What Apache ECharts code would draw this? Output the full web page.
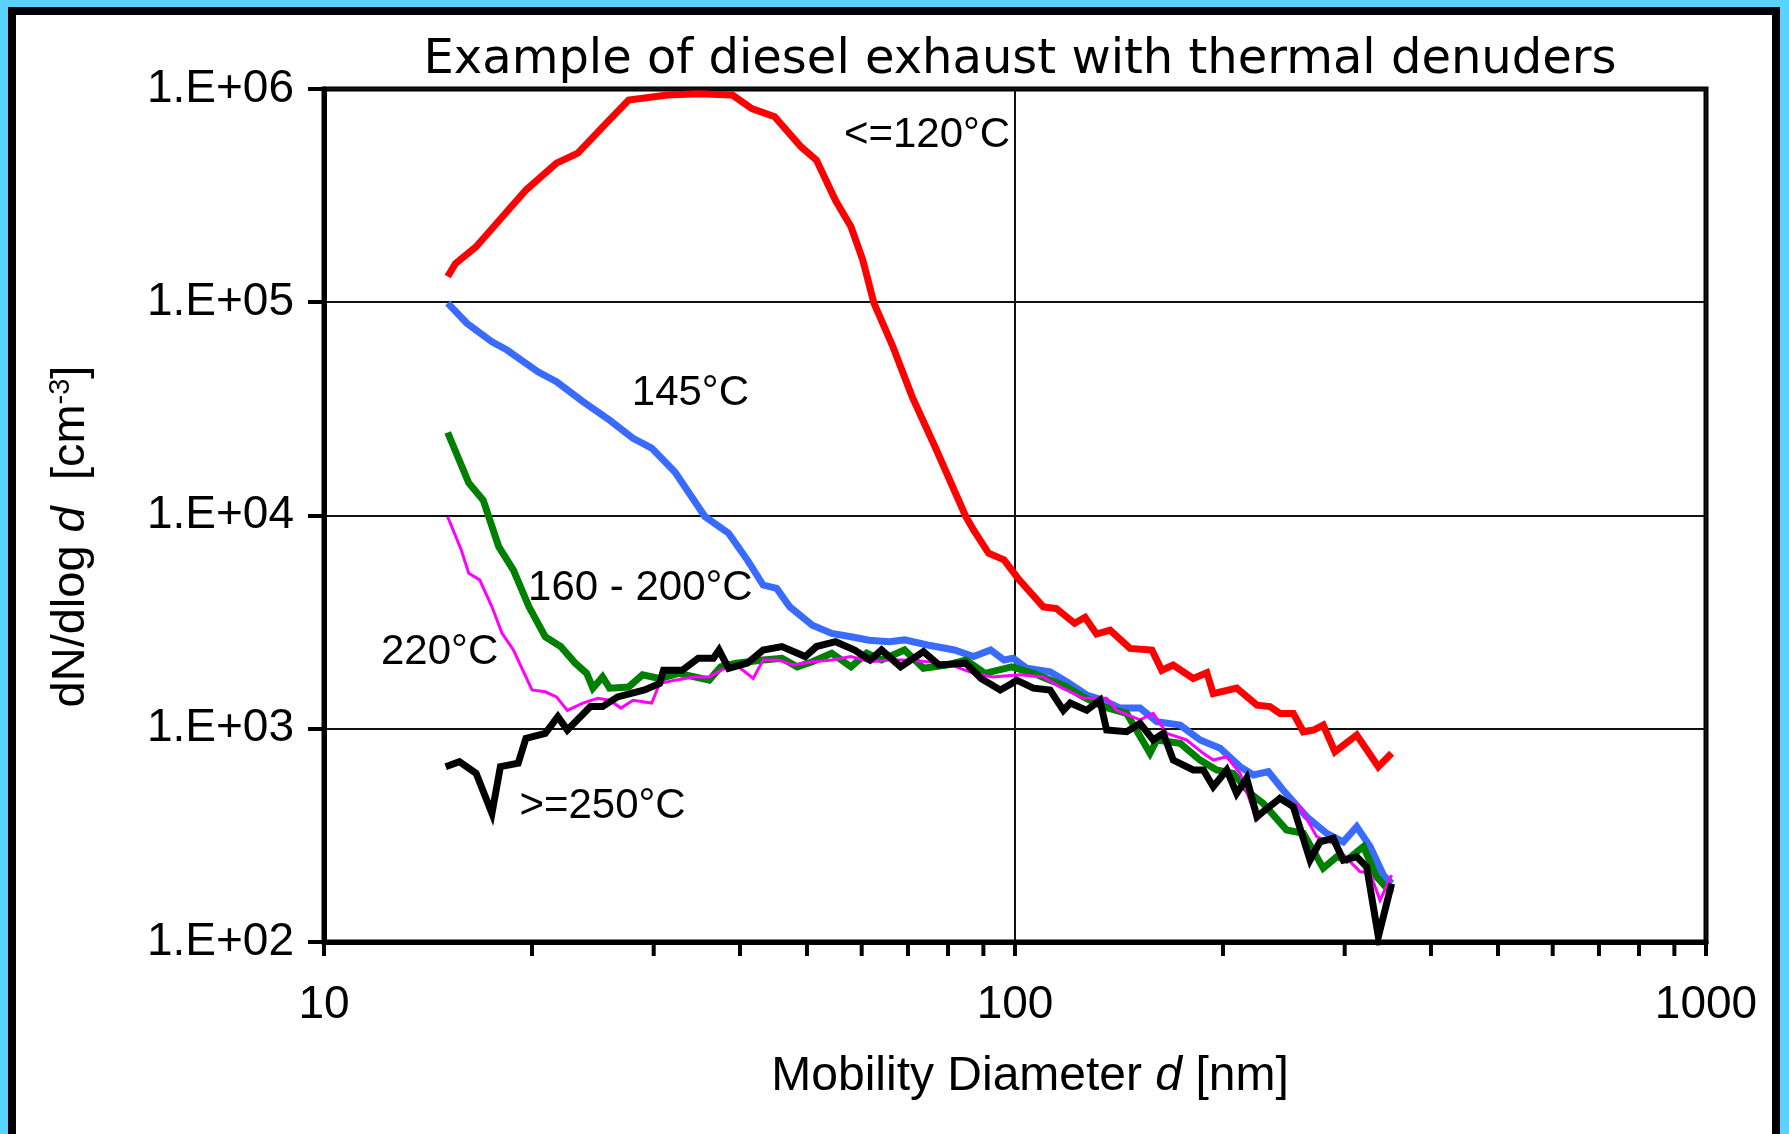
<!DOCTYPE html>
<html><head><meta charset="utf-8">
<script src="https://cdn.jsdelivr.net/npm/echarts@6/dist/echarts.min.js"></script>
<style>
html,body{margin:0;padding:0;width:1789px;height:1134px;overflow:hidden;background:#5AD2FE;}
#frame{position:absolute;left:8px;top:7px;width:1756px;height:1200px;border:8px solid #000;background:#fff;}
#chart{position:absolute;left:0;top:0;width:1789px;height:1134px;}
</style></head><body><div id="frame"></div><div id="chart"></div>
<script>
const titleText = 'Example of diesel exhaust with thermal denuders';
const xTickLabels = ['10', '100', '1000'];
const yTickLabels = ['1.E+02', '1.E+03', '1.E+04', '1.E+05', '1.E+06'];
const xMinorTicks = [20,30,40,50,60,70,80,90,200,300,400,500,600,700,800,900];

// diameter [nm], dN/dlog d [cm^-3]
const red120 = [[15.1,1.32e5],[15.5,1.52e5],[16.6,1.82e5],[17.6,2.26e5],[19.6,3.36e5],[21.7,4.49e5],[23.3,5.0e5],[25.6,6.9e5],[27.6,8.87e5],[31.4,9.37e5],[34.8,9.5e5],[39.0,9.37e5],[41.6,8.1e5],[44.9,7.42e5],[49.0,5.36e5],[51.6,4.64e5],[55.0,3.0e5],[57.9,2.26e5],[60.2,1.58e5],[62.5,9.9e4],[66.6,6.17e4],[71.0,3.6e4],[76.6,2.1e4],[84.9,9.87e3],[87.1,8.55e3],[91.6,6.65e3],[96.4,6.2e3],[101.4,4.99e3],[109.9,3.73e3],[114.8,3.66e3],[122,3.12e3],[126.3,3.33e3],[131.2,2.78e3],[137.3,2.9e3],[146.7,2.38e3],[157.8,2.34e3],[163.1,1.88e3],[169.4,1.99e3],[181.1,1.72e3],[189.5,1.83e3],[193.6,1.46e3],[209.3,1.55e3],[224,1.29e3],[233.9,1.27e3],[241.8,1.18e3],[252.8,1.18e3],[261.4,968],[270.3,986],[279.3,1.04e3],[290.4,780],[312.3,935],[335.6,664],[350.8,767]];
const blue145 = [[15.1,9.9e4],[16.1,7.97e4],[17.5,6.53e4],[18.4,5.97e4],[20.4,4.72e4],[21.7,4.24e4],[23.7,3.42e4],[25.9,2.8e4],[28.0,2.3e4],[29.8,2.07e4],[32.2,1.6e4],[35.6,9.87e3],[38.5,8.26e3],[41.0,6.18e3],[43.2,4.72e3],[45.2,4.55e3],[47.2,3.73e3],[50.9,3.06e3],[54.3,2.8e3],[57.9,2.7e3],[61.5,2.6e3],[65.8,2.56e3],[69.2,2.61e3],[74.7,2.47e3],[81.7,2.34e3],[87.1,2.18e3],[92.2,2.34e3],[96.4,2.1e3],[99.4,2.14e3],[104,1.92e3],[112.4,1.85e3],[118.8,1.66e3],[127,1.44e3],[134.2,1.36e3],[141.9,1.25e3],[151.7,1.25e3],[160.4,1.08e3],[173.4,1.04e3],[185.3,886],[198.1,810],[211.7,664],[221.3,607],[232.6,629],[244.3,516],[264.2,387],[282.5,323],[298.6,295],[312.3,347],[326.6,280],[341.3,206],[350.8,188]];
const green160_200 = [[15.1,2.45e4],[16.2,1.42e4],[17.0,1.18e4],[17.9,7.14e3],[18.8,5.55e3],[19.8,3.73e3],[20.9,2.7e3],[22.0,2.43e3],[23.1,2.03e3],[24.0,1.82e3],[24.5,1.55e3],[25.3,1.75e3],[25.9,1.55e3],[27.6,1.57e3],[28.9,1.79e3],[30.6,1.72e3],[32.6,1.82e3],[36.1,1.69e3],[37.5,1.95e3],[39.5,2.03e3],[43.2,2.1e3],[46.0,2.14e3],[48.4,1.95e3],[50.9,2.06e3],[54.3,2.26e3],[57.9,1.95e3],[61.0,2.26e3],[64.1,2.1e3],[69.2,2.34e3],[73.7,1.92e3],[79.6,1.99e3],[84.9,2.1e3],[90.5,1.82e3],[98.9,1.95e3],[106.3,1.82e3],[118.8,1.57e3],[125.6,1.41e3],[134.2,1.27e3],[145.1,1.18e3],[156.8,767],[160.4,886],[173.4,855],[185.3,713],[195.8,641],[207,618],[218.8,498],[228.6,447],[247.2,335],[261.4,323],[279.3,222],[292.2,251],[302,242],[319.3,280],[333.7,202],[350.8,169]];
const magenta220 = [[15.1,9.87e3],[15.8,6.89e3],[16.2,5.36e3],[16.8,4.99e3],[17.5,3.73e3],[18.1,2.8e3],[18.8,2.34e3],[20.0,1.52e3],[20.9,1.49e3],[21.7,1.41e3],[22.5,1.22e3],[23.7,1.32e3],[24.9,1.39e3],[25.9,1.36e3],[26.9,1.25e3],[28.0,1.36e3],[29.8,1.32e3],[30.6,1.63e3],[32.2,1.69e3],[34.3,1.75e3],[36.1,1.75e3],[38.0,1.92e3],[39.5,1.99e3],[41.8,1.72e3],[43.2,2.1e3],[45.4,2.1e3],[47.8,1.99e3],[50.9,2.06e3],[54.3,2.1e3],[57.9,2.18e3],[61.6,2.06e3],[65.8,2.1e3],[70.1,2.1e3],[74.7,2.06e3],[79.6,2.03e3],[87.1,1.82e3],[92.8,1.75e3],[101.7,1.79e3],[109.9,1.75e3],[116.2,1.57e3],[125.6,1.39e3],[135.7,1.39e3],[140.3,1.22e3],[151.7,1.1e3],[158.5,1.18e3],[165.8,952],[177.1,886],[187.3,767],[193.6,713],[202.5,739],[211.7,618],[223.9,373],[241.8,480],[258.4,431],[273.3,312],[288.8,290],[302,247],[315.7,214],[326.6,210],[337.5,157],[350.8,206]];
const black250 = [[15.0,664],[15.7,701],[16.6,618],[17.5,401],[18.0,664],[19.1,689],[19.6,902],[20.9,952],[21.8,1.14e3],[22.5,986],[24.3,1.27e3],[25.3,1.27e3],[26.6,1.41e3],[29.1,1.52e3],[30.6,1.63e3],[31.0,1.88e3],[33.0,1.88e3],[34.8,2.14e3],[36.6,2.14e3],[37.3,2.34e3],[38.5,1.92e3],[41.0,2.03e3],[43.2,2.34e3],[46.0,2.43e3],[49.7,2.18e3],[51.6,2.43e3],[55.0,2.56e3],[58.6,2.34e3],[61.7,2.1e3],[64.1,2.34e3],[68.3,1.95e3],[73.7,2.3e3],[77.6,1.99e3],[84.9,2.03e3],[89.3,1.72e3],[95.2,1.52e3],[98.9,1.63e3],[100.6,1.69e3],[106.3,1.55e3],[112.4,1.52e3],[117.5,1.22e3],[120.2,1.32e3],[127,1.22e3],[132.7,1.36e3],[135.7,986],[145.1,968],[151.7,1.06e3],[158.5,886],[163.9,952],[169.4,713],[181.1,641],[187.3,641],[193.6,535],[202.5,641],[209.3,498],[216.4,586],[223.9,387],[241.8,472],[252.8,431],[267.3,242],[276.3,295],[288.8,306],[298.6,242],[312.3,251],[322.8,225],[335.6,106],[350.8,188]];

const curveLabels = [
  {text:'<=120°C', d:74.6, v:6.08e5},
  {text:'145°C', d:33.9, v:3.75e4},
  {text:'160 - 200°C', d:28.7, v:4.57e3},
  {text:'220°C', d:14.7, v:2.29e3},
  {text:'>=250°C', d:25.3, v:434}
];

const FONT = '"Liberation Sans", Arial, sans-serif';
const chart = echarts.init(document.getElementById('chart'), null, {renderer:'canvas'});

function lineSeries(name, data, color, width, z){
  return {type:'line', name, data, symbol:'none', showSymbol:false, z,
    lineStyle:{color, width, join:'miter', opacity:1}, itemStyle:{color}, silent:true, animation:false};
}

const option = {
  animation:false,
  backgroundColor:'transparent',
  textStyle:{fontFamily:FONT},
  grid:{left:324, top:89, width:1382, height:853, show:true, borderColor:'#000', borderWidth:5, backgroundColor:'transparent', containLabel:false},
  graphic:[{type:'text', x:1020, y:61, style:{text:titleText, font:'48px "DejaVu Sans"', textAlign:'center', textVerticalAlign:'middle', fill:'#000'}}],
  xAxis:{
    type:'log', logBase:10, min:10, max:1000,
    axisLine:{show:true, lineStyle:{color:'#000', width:5}},
    axisTick:{show:true, inside:false, length:14, lineStyle:{color:'#000', width:4}},
    axisLabel:{fontSize:46, color:'#000', margin:40, fontFamily:FONT, formatter:(v,i)=>xTickLabels[i]},
    splitLine:{show:true, lineStyle:{color:'#111', width:2}},
    name:'{a|Mobility Diameter }{b|d}{a| [nm]}', nameLocation:'middle', nameGap:111,
    nameTextStyle:{padding:[0,0,0,30], rich:{a:{fontSize:48, fontFamily:FONT, color:'#000'}, b:{fontSize:48, fontFamily:FONT, fontStyle:'italic', color:'#000'}}}
  },
  yAxis:{
    type:'log', logBase:10, min:100, max:1e6,
    axisLine:{show:true, lineStyle:{color:'#000', width:5}},
    axisTick:{show:true, inside:false, length:16, lineStyle:{color:'#000', width:4}},
    axisLabel:{fontSize:46, color:'#000', margin:30, fontFamily:FONT, formatter:(v,i)=>yTickLabels[i]},
    splitLine:{show:true, lineStyle:{color:'#111', width:2}},
    name:'{a|dN/dlog }{b|d}{a|  [cm}{s|-3}{a|]}', nameLocation:'middle', nameRotate:90, nameGap:228,
    nameTextStyle:{padding:[0,42,0,0], rich:{
      a:{fontSize:47, fontFamily:FONT, color:'#000', lineHeight:50},
      b:{fontSize:47, fontFamily:FONT, fontStyle:'italic', color:'#000', lineHeight:50},
      s:{fontSize:29, fontFamily:FONT, color:'#000', verticalAlign:'top', lineHeight:50}
    }}
  },
  series:[
    lineSeries('<=120°C', red120, '#FF0000', 7, 2),
    lineSeries('145°C', blue145, '#3A6BFF', 7, 3),
    lineSeries('160 - 200°C', green160_200, '#008000', 7, 4),
    lineSeries('220°C', magenta220, '#FF00FF', 3, 5),
    lineSeries('>=250°C', black250, '#000000', 7, 6),
    {type:'custom', coordinateSystem:'cartesian2d', clip:false, silent:true, z:10,
      data:xMinorTicks.map(v=>[v,100]),
      renderItem:(params, api)=>{
        const p = api.coord([api.value(0), api.value(1)]);
        return {type:'line', shape:{x1:p[0], y1:p[1], x2:p[0], y2:p[1]+14}, style:{stroke:'#000', lineWidth:4}};
      }},
    {type:'scatter', silent:true, z:20, symbolSize:0, itemStyle:{opacity:1},
      data:curveLabels.map(l=>({value:[l.d,l.v], name:l.text})),
      label:{show:true, position:'inside', formatter:p=>p.name, fontSize:42, fontFamily:FONT, color:'#000', opacity:1}}
  ]
};
chart.setOption(option);
</script></body></html>
